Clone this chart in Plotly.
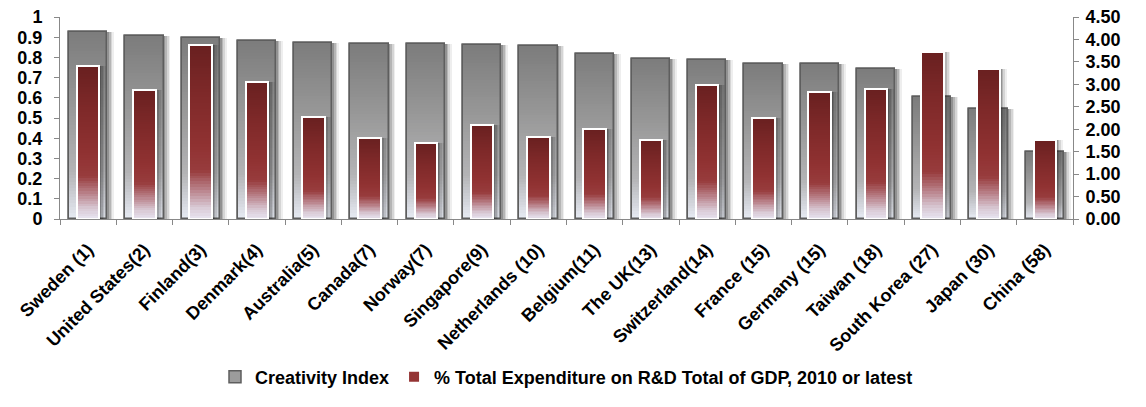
import plotly.graph_objects as go
from plotly.colors import sample_colorscale

# Countries with their Global Creativity Index rank
countries = ["Sweden (1)", "United States(2)", "Finland(3)", "Denmark(4)", "Australia(5)",
             "Canada(7)", "Norway(7)", "Singapore(9)", "Netherlands (10)", "Belgium(11)",
             "The UK(13)", "Switzerland(14)", "France (15)", "Germany (15)", "Taiwan (18)",
             "South Korea (27)", "Japan (30)", "China (58)"]

creativity_index = [0.926, 0.904, 0.896, 0.881, 0.873, 0.865, 0.865, 0.860, 0.855, 0.816,
                    0.792, 0.788, 0.766, 0.766, 0.742, 0.602, 0.544, 0.330]

rd_pct_gdp = [3.40, 2.88, 3.87, 3.06, 2.27, 1.80, 1.69, 2.10, 1.83, 2.00,
              1.76, 2.99, 2.26, 2.82, 2.90, 3.73, 3.35, 1.76]

left_ticks = [0, 0.1, 0.2, 0.3, 0.4, 0.5, 0.6, 0.7, 0.8, 0.9, 1]
right_ticks = [0, 0.5, 1.0, 1.5, 2.0, 2.5, 3.0, 3.5, 4.0, 4.5]

FONT = "Liberation Sans, Arial, sans-serif"
N_SEG = 60

# vertical fill ramps, bottom (0) to top (1) of each bar
grey_ramp = [[0.0, "#e8ecf4"], [0.08, "#d6d9e0"], [0.25, "#b4b4b6"],
             [0.60, "#989898"], [1.0, "#7c7c7c"]]
red_ramp = [[0.0, "#e8e4f0"], [0.07, "#d8c8d3"], [0.17, "#b88088"],
            [0.28, "#983c3d"], [0.42, "#903232"], [0.75, "#7c2828"], [1.0, "#692020"]]

fig = go.Figure()


def add_series(values, name, axis, width, ramp, legend_color, edge_color, edge_w):
    half = width / 2
    # soft drop shadow to the right
    for shift, alpha in [(0.12, 0.07), (0.09, 0.11), (0.06, 0.16), (0.03, 0.22)]:
        fig.add_trace(go.Bar(
            x=countries, y=values, yaxis=axis, width=width, offset=-half + shift,
            marker=dict(color=f"rgba(20,20,20,{alpha})", line=dict(width=0)),
            showlegend=False, hoverinfo="skip"))
    # solid base bar (also provides the legend swatch)
    fig.add_trace(go.Bar(
        x=countries, y=values, yaxis=axis, width=width, offset=-half, name=name,
        marker=dict(color=legend_color, line=dict(color=edge_color, width=edge_w)),
        showlegend=True))
    # gradient fill built from stacked slices of each bar
    cols = sample_colorscale(ramp, [(k + 0.5) / N_SEG for k in range(N_SEG)])
    for k in range(N_SEG):
        top = min(k + 1.5, N_SEG)
        fig.add_trace(go.Bar(
            x=countries,
            y=[v * (top - k) / N_SEG for v in values],
            base=[v * k / N_SEG for v in values],
            yaxis=axis, width=width, offset=-half,
            marker=dict(color=cols[k], line=dict(width=0)),
            showlegend=False, hoverinfo="skip"))
    # outline on top of the fill
    fig.add_trace(go.Bar(
        x=countries, y=values, yaxis=axis, width=width, offset=-half,
        marker=dict(color="rgba(0,0,0,0)", line=dict(color=edge_color, width=edge_w)),
        showlegend=False, hoverinfo="skip"))


add_series(creativity_index, "Creativity Index", "y", 0.68, grey_ramp,
           "#9c9c9c", "#5e5e5e", 1.5)
add_series(rd_pct_gdp, "% Total Expenditure on R&D Total of GDP, 2010 or latest", "y2",
           0.40, red_ramp, "#943434", "#ffffff", 2)

axis_font = dict(family=FONT, size=18, color="#000000", weight=700)

fig.update_layout(
    width=1146, height=407,
    margin=dict(l=60, r=73, t=17, b=178),
    paper_bgcolor="white", plot_bgcolor="white",
    barmode="overlay", bargap=0,
    showlegend=True,
    legend=dict(orientation="h", x=0.5, xanchor="center", y=-0.783, yanchor="middle",
                font=dict(family=FONT, size=18, color="#000000", weight=700),
                traceorder="normal"),
    xaxis=dict(type="category", tickangle=-45, tickfont=axis_font,
               showline=True, linecolor="#888888", linewidth=1,
               ticks="outside", tickson="boundaries", ticklen=5, tickcolor="#888888",
               ticklabelstandoff=12,
               showgrid=False, automargin=False, range=[-0.5, len(countries) - 0.5]),
    yaxis=dict(range=[0, 1], tickvals=left_ticks, tickfont=axis_font,
               showline=True, linecolor="#888888", linewidth=1,
               ticks="outside", ticklen=5, tickcolor="#888888", ticklabelstandoff=8,
               showgrid=False, zeroline=False, automargin=False),
    yaxis2=dict(range=[0, 4.5], tickvals=right_ticks, tickformat=".2f", ticksuffix="%",
                overlaying="y", side="right", tickfont=axis_font,
                showline=True, linecolor="#888888", linewidth=1,
                ticks="outside", ticklen=5, tickcolor="#888888", ticklabelstandoff=3,
                showgrid=False, zeroline=False, automargin=False),
    font=dict(family=FONT),
)

fig.write_html("out.html")
